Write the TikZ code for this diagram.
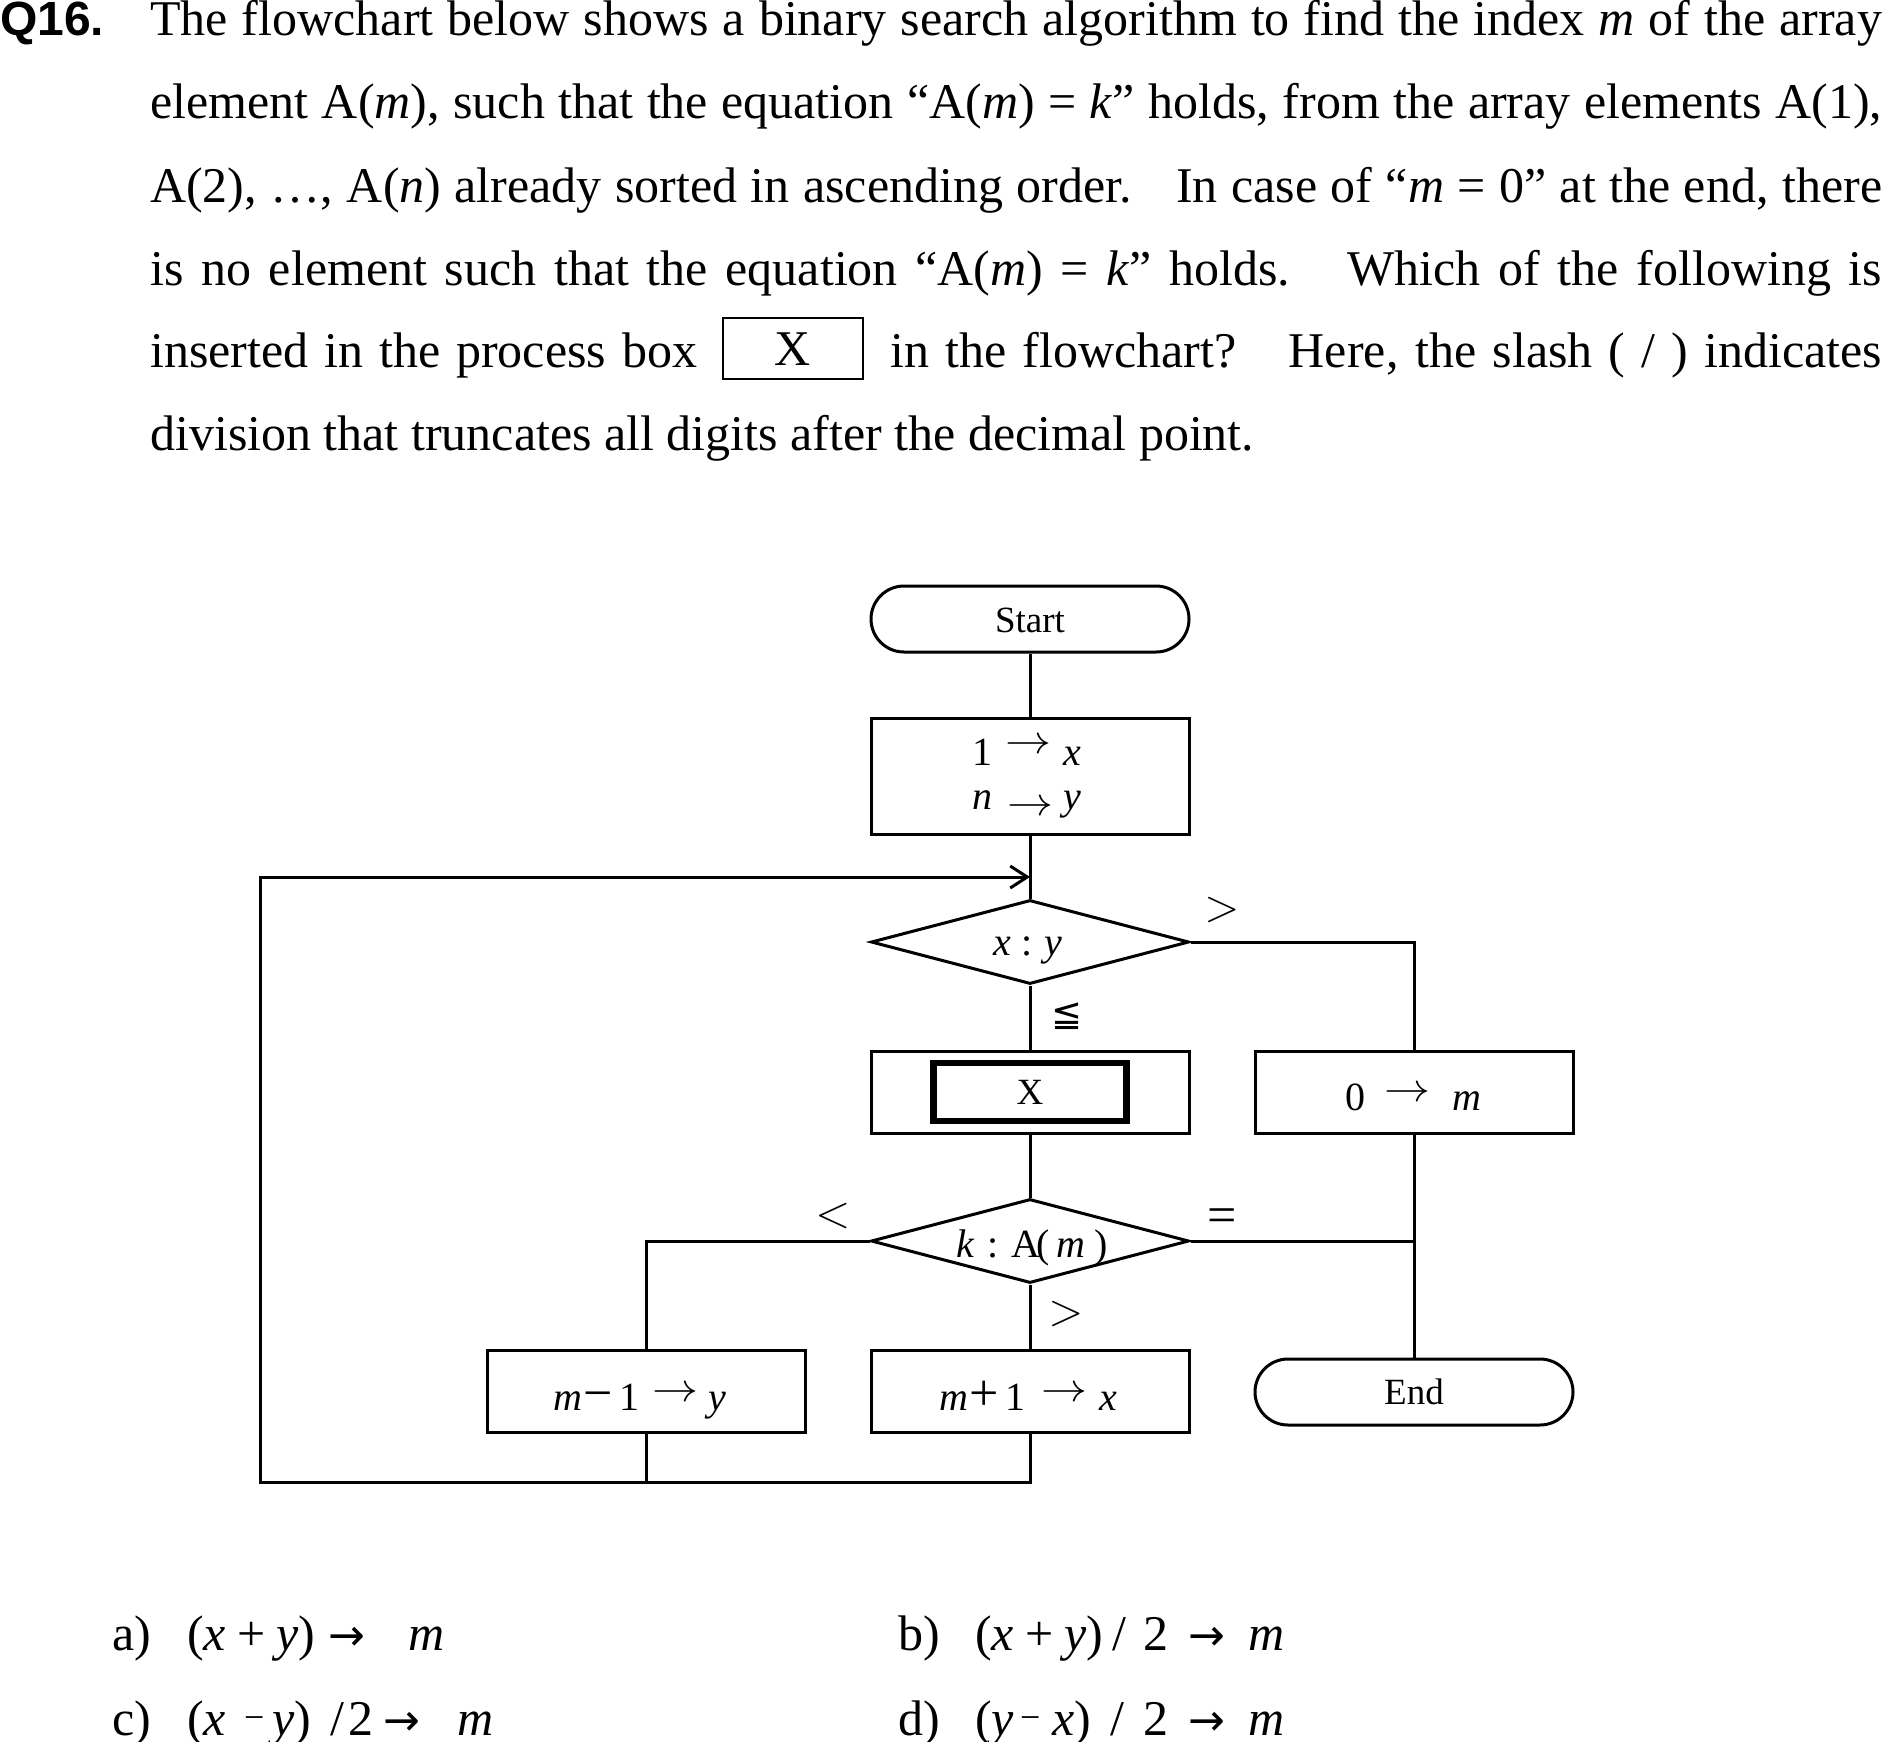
\RequirePackage{fix-cm}
\documentclass[tikz,border=0pt]{standalone}
\usepackage{fontspec}
\setmainfont{Liberation Serif}
\newfontfamily\qfont{Liberation Sans}
\newfontfamily\dvfont{DejaVu Sans}
\usetikzlibrary{shapes.geometric,arrows.meta}
\newcommand{\fsz}[1]{\fontsize{#1}{#1}\selectfont}
\newcommand{\flarr}[1]{\raisebox{#1}{\scalebox{1.15}[1]{$\rightarrow$}}}
\newcommand{\oarr}{{\dvfont\fsz{44}→}}
\newcommand{\smin}{\raisebox{6pt}{\fsz{36}−}}
\newcommand{\seg}[2]{\makebox[#1][l]{#2}}
\newcommand{\bigop}[1]{{\fsz{52}#1}}
% text placed from an offset left of the node centre, with its baseline shifted by #2
\newcommand{\boxtext}[3]{\raisebox{#2}[0pt][0pt]{\makebox[0pt][l]{\hspace{#1}#3}}}
\newcommand{\ctext}[2]{\raisebox{#1}[0pt][0pt]{\makebox[0pt]{#2}}}
\begin{document}
\begin{tikzpicture}[x=1pt,y=-1pt,
  ln/.style={line width=3pt},
  txt/.style={inner sep=0pt,anchor=base west,font=\fsz{50}},
  proc/.style={draw,line width=3pt,rectangle,minimum width=318pt,minimum height=82pt,inner sep=0pt,font=\fsz{40}},
  term/.style={draw,line width=3pt,rectangle,rounded corners=33pt,minimum width=318pt,minimum height=66pt,inner sep=0pt,font=\fsz{37}},
  dec/.style={draw,line width=3pt,diamond,aspect=3.79,minimum width=318pt,minimum height=84pt,inner sep=0pt,font=\fsz{40}},
  lbl/.style={inner sep=0pt,font=\fsz{46}}]
\useasboundingbox (0,0) rectangle (1882,1741);

% question text
\node[txt,font=\fsz{48}\qfont\bfseries] (q) at (0,35) {Q16.};
\node[txt] (l1) at (150,35) {\makebox[1732pt][s]{The flowchart below shows a binary search algorithm to find the index \textit{m} of the array}};
\node[txt] (l2) at (150,118) {\makebox[1732pt][s]{element A(\textit{m}), such that the equation “A(\textit{m}) = \textit{k}” holds, from the array elements A(1),}};
\node[txt] (l3) at (150,202) {\makebox[1732pt][s]{A(2), …, A(\textit{n}) already sorted in ascending order.\hspace{0.5em} In case of “\textit{m} = 0” at the end, there}};
\node[txt] (l4) at (150,285) {\makebox[1732pt][s]{is no element such that the equation “A(\textit{m}) = \textit{k}” holds.\hspace{0.5em} Which of the following is}};
\node[txt] (l5a) at (150,367) {\makebox[547pt][s]{inserted in the process box}};
\node[draw,line width=2.5pt,minimum width=140pt,minimum height=61pt,inner sep=0pt,font=\fsz{50}] (qbox) at (793,348.5) {\ctext{-17pt}{X}};
\node[txt] (l5b) at (890,367) {\makebox[992pt][s]{in the flowchart?\hspace{0.5em} Here, the slash ( / ) indicates}};
\node[txt] (l6) at (150,450) {division that truncates all digits after the decimal point.};

% flowchart
\node[term] (start) at (1030,619) {\ctext{-13pt}{Start}};
\node[proc,minimum height=116pt] (init) at (1030,776)
  {\boxtext{-58pt}{11pt}{\seg{33pt}{1}\seg{58pt}{\flarr{12pt}}\textit{x}}%
   \boxtext{-58pt}{-33pt}{\seg{35pt}{\textit{n}}\seg{56pt}{\flarr{-6pt}}\textit{y}}};
\node[dec] (d1) at (1030,942) {\boxtext{-37pt}{-13pt}{\seg{28pt}{\textit{x}}\seg{23pt}{:}\textit{y}}};
\node[proc] (xbox) at (1030,1092) {};
\node[draw,line width=6.5pt,minimum width=193pt,minimum height=58pt,inner sep=0pt,font=\fsz{37}] (xin) at (1030,1092) {\ctext{-12pt}{X}};
\node[proc] (zbox) at (1414,1092) {\boxtext{-69pt}{-18pt}{\seg{39pt}{0}\seg{68pt}{\flarr{9pt}}\textit{m}}};
\node[dec] (d2) at (1030,1241) {\boxtext{-74pt}{-16pt}{\seg{31pt}{\textit{k}}\seg{24pt}{:}\seg{25pt}{A}\seg{20pt}{(}\seg{38pt}{\textit{m}})}};
\node[proc] (mbox) at (646,1391) {\boxtext{-93pt}{-19pt}{\seg{30pt}{\textit{m}}\seg{36pt}{\bigop{−}}\seg{33pt}{1}\seg{56pt}{\flarr{9pt}}\textit{y}}};
\node[proc] (pbox) at (1030,1391) {\boxtext{-91pt}{-19pt}{\seg{30pt}{\textit{m}}\seg{36pt}{\bigop{+}}\seg{36pt}{1}\seg{58pt}{\flarr{9pt}}\textit{x}}};
\node[term] (end) at (1414,1392) {\ctext{-12pt}{End}};

\coordinate (lb) at (260,1482);
\coordinate (lpt) at (260,877);

\draw[ln] (start) -- (init);
\draw[ln] (init) -- (d1);
\draw[ln] (d1) -- (xbox);
\draw[ln] (d1.east) -| (zbox.north);
\draw[ln] (xbox) -- (d2);
\draw[ln] (zbox) -- (end);
\draw[ln] (d2.east) -- (d2.east -| zbox.south);
\draw[ln] (d2.west) -| (mbox.north);
\draw[ln] (d2) -- (pbox);
\draw[ln] (mbox.south) -- (mbox.south |- lb);
\draw[ln,-{Straight Barb[length=17pt,width=22pt,line width=3pt]}] (pbox.south) |- (lb) -- (lpt) -- (init.south |- lpt);

% branch labels
\node[lbl] (g1) at (1222,910) {$>$};
\node[lbl] (le) at (1067,1016) {\dvfont\fsz{37}≦};
\node[lbl] (ls) at (833,1216) {$<$};
\node[lbl,font=\fsz{52}] (eq) at (1222,1221) {=};
\node[lbl] (g2) at (1066,1314) {$>$};

% options
\node[txt] (oa) at (112,1650) {\seg{75pt}{a)}\seg{141pt}{(\textit{x}\hspace{11pt}+\hspace{11pt}\textit{y})}\seg{80pt}{\oarr}\textit{m}};
\node[txt] (ob) at (898,1650) {\seg{77pt}{b)}\seg{137pt}{(\textit{x}\hspace{11pt}+\hspace{11pt}\textit{y})}\seg{31pt}{/}\seg{45pt}{2}\seg{60pt}{\oarr}\textit{m}};
\node[txt] (oc) at (112,1735) {\seg{75pt}{c)}\seg{143pt}{(\textit{x}\hspace{18pt}\smin\hspace{8pt}\textit{y})}\seg{18pt}{/}\seg{35pt}{2}\seg{74pt}{\oarr}\textit{m}};
\node[txt] (od) at (898,1735) {\seg{77pt}{d)}\seg{135pt}{(\textit{y}\hspace{6pt}\smin\hspace{12pt}\textit{x})}\seg{33pt}{/}\seg{45pt}{2}\seg{60pt}{\oarr}\textit{m}};
\end{tikzpicture}
\end{document}
